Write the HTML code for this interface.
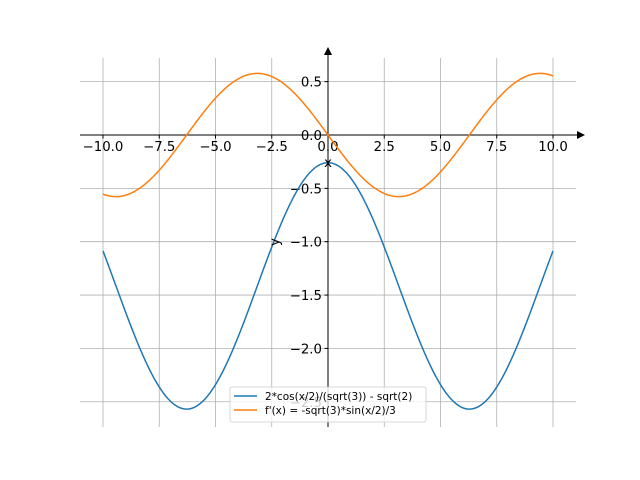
<!DOCTYPE html>
<html><head><meta charset="utf-8"><style>body{margin:0;background:#fff}svg{display:block}text{font-family:"DejaVu Sans","Liberation Sans",sans-serif;font-size:13.3px;fill:#000}</style></head>
<body>
<svg id="s" width="640" height="480" xmlns="http://www.w3.org/2000/svg">
<g id="grid" stroke="#b0b0b0" stroke-width="0.8"></g>
<g id="ticks"></g>
<line x1="80" y1="135" x2="580" y2="135" stroke="#000" stroke-width="1"/>
<polygon points="585,135 577,131 577,139" fill="#000"/>
<line x1="328" y1="427" x2="328" y2="53" stroke="#000" stroke-width="1"/>
<polygon points="328,47 324,55 332,55" fill="#000"/>
<path id="p1" fill="none" stroke="#1f77b4" stroke-width="1.5"/>
<path id="p2" fill="none" stroke="#ff7f0e" stroke-width="1.5"/>
<text x="328" y="167" text-anchor="middle">x</text>
<text transform="translate(279,242) rotate(-90)" text-anchor="middle">y</text>
<rect x="230" y="387" width="196" height="35" rx="2" fill="#fff" fill-opacity="0.8" stroke="#ccc" stroke-width="0.8"/>
<line x1="234" y1="396" x2="257" y2="396" stroke="#1f77b4" stroke-width="1.5"/>
<line x1="234" y1="410" x2="257" y2="410" stroke="#ff7f0e" stroke-width="1.5"/>
<text x="265" y="400" style="font-size:10.5px">2*cos(x/2)/(sqrt(3)) - sqrt(2)</text>
<text x="265" y="414" style="font-size:10.5px">f'(x) = -sqrt(3)*sin(x/2)/3</text>
</svg>
<script>
var X=function(x){return 328+22.5*x},Y=function(y){return 135-106.7*y};
var g=document.getElementById('grid'),t=document.getElementById('ticks'),ns='http://www.w3.org/2000/svg';
function el(p,n,a,txt){var e=document.createElementNS(ns,n);for(var k in a)e.setAttribute(k,a[k]);if(txt!=null)e.textContent=txt;p.appendChild(e);}
for(var x=-10;x<=10;x+=2.5){var px=X(x);el(g,'line',{x1:px,y1:58,x2:px,y2:427});el(t,'line',{x1:px,y1:135,x2:px,y2:138.5,stroke:'#000'});
el(t,'text',{x:px,y:151,'text-anchor':'middle'},(x<0?'\u2212':'')+Math.abs(x).toFixed(1));}
for(var y=-2.5;y<=0.5;y+=0.5){var py=Y(y);el(g,'line',{x1:80,y1:py,x2:576,y2:py});el(t,'line',{x1:324.5,y1:py,x2:328,y2:py,stroke:'#000'});
el(t,'text',{x:322,y:py+5,'text-anchor':'end'},(y<0?'\u2212':'')+Math.abs(y).toFixed(1));}
var a='',b='';for(var i=0;i<=400;i++){var x=-10+i*0.05;var f=2*Math.cos(x/2)/Math.sqrt(3)-Math.SQRT2,d=-Math.sqrt(3)*Math.sin(x/2)/3;
a+=(i?'L':'M')+X(x).toFixed(2)+','+Y(f).toFixed(2);b+=(i?'L':'M')+X(x).toFixed(2)+','+Y(d).toFixed(2);}
document.getElementById('p1').setAttribute('d',a);document.getElementById('p2').setAttribute('d',b);
</script>
</body></html>
